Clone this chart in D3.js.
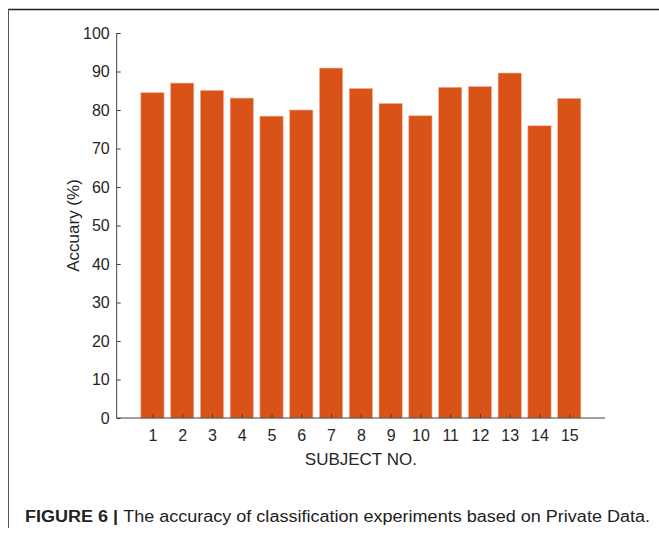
<!DOCTYPE html>
<html>
<head>
<meta charset="utf-8">
<script src="https://cdn.jsdelivr.net/npm/d3@7"></script>
<style>
  html, body { margin: 0; padding: 0; background: #fff; }
  svg { display: block; }
</style>
</head>
<body>
<script>
const subjects = [1,2,3,4,5,6,7,8,9,10,11,12,13,14,15];
const accuracy = [84.5, 87.0, 85.1, 83.1, 78.4, 80.0, 90.9, 85.6, 81.7, 78.5, 85.9, 86.1, 89.6, 75.9, 83.0];
const yTicks = [0,10,20,30,40,50,60,70,80,90,100];
const xLabel = "SUBJECT NO.";
const yLabel = "Accuary (%)";
const captionBold = "FIGURE 6 | ";
const captionText = "The accuracy of classification experiments based on Private Data.";

const W = 659, H = 533;
const svg = d3.select("body").append("svg").attr("width", W).attr("height", H);

// frame
svg.append("line").attr("x1", 8).attr("x2", W).attr("y1", 9.5).attr("y2", 9.5)
  .attr("stroke", "#222").attr("stroke-width", 1.6);
svg.append("line").attr("x1", 8.5).attr("x2", 8.5).attr("y1", 9).attr("y2", 528)
  .attr("stroke", "#555").attr("stroke-width", 1);

const x = d3.scaleLinear().domain([-0.2, 16.2]).range([116.7, 605]);
const y = d3.scaleLinear().domain([0, 100]).range([418, 33]);
const bw = 0.78 * (x(1) - x(0));

const axisColor = "#404040";
const font = "'Liberation Sans', Arial, sans-serif";

// bars
svg.append("g").selectAll("rect").data(subjects).join("rect")
  .attr("x", (d) => x(d) - bw / 2)
  .attr("width", bw)
  .attr("y", (d, i) => y(accuracy[i]))
  .attr("height", (d, i) => y(0) - y(accuracy[i]))
  .attr("fill", "#D95319")
  .attr("stroke", "#eeb49a")
  .attr("stroke-width", 0.6);

// y axis
const yAxis = d3.axisLeft(y).tickValues(yTicks).tickSize(-4).tickPadding(7).tickFormat(d3.format("d"));
const gy = svg.append("g").attr("transform", `translate(${x(-0.2)},0)`).call(yAxis);
gy.attr("font-size", null);
gy.select(".domain").attr("stroke", axisColor).attr("d", `M0,${y(100)}V${y(0)}`);
gy.selectAll(".tick line").attr("stroke", axisColor);
gy.selectAll(".tick text").attr("fill", "#262626").attr("font-family", font).attr("font-size", 16);

// x axis
const xAxis = d3.axisBottom(x).tickValues(subjects).tickSize(-4).tickPadding(12).tickFormat(d3.format("d"));
const gx = svg.append("g").attr("transform", `translate(0,${y(0)})`).call(xAxis);
gx.attr("font-size", null);
gx.select(".domain").attr("stroke", axisColor).attr("d", `M${x(-0.2)},0H${x(16.2)}`);
gx.selectAll(".tick line").attr("stroke", axisColor);
gx.selectAll(".tick text").attr("fill", "#262626").attr("font-family", font).attr("font-size", 16);

// axis labels
svg.append("text").attr("x", (x(-0.2) + x(16.2)) / 2).attr("y", 465)
  .attr("text-anchor", "middle").attr("fill", "#262626")
  .attr("font-family", font).attr("font-size", 17).text(xLabel);
svg.append("text").attr("transform", `translate(79,${(y(0) + y(100)) / 2}) rotate(-90)`)
  .attr("text-anchor", "middle").attr("fill", "#262626")
  .attr("font-family", font).attr("font-size", 17).text(yLabel);

// caption
const cap = svg.append("text").attr("x", 25).attr("y", 522)
  .attr("font-family", font).attr("font-size", 16).attr("fill", "#222");
cap.append("tspan").attr("font-weight", "bold").text(captionBold);
cap.append("tspan").text(captionText);
cap.attr("textLength", 625).attr("lengthAdjust", "spacingAndGlyphs");
</script>
</body>
</html>
